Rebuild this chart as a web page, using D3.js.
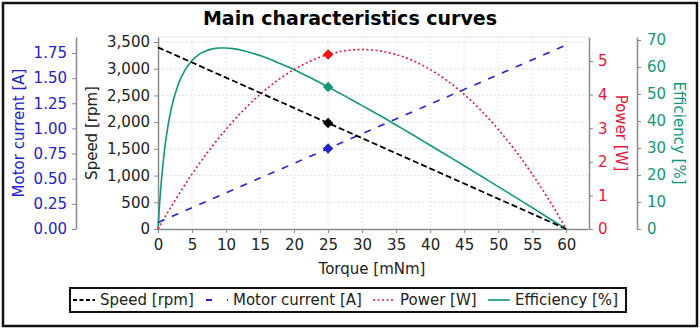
<!DOCTYPE html>
<html><head><meta charset="utf-8">
<script src="https://cdn.jsdelivr.net/npm/d3@7"></script>
<style>body{margin:0;background:#fff}svg{display:block;font-family:"DejaVu Sans",Verdana,sans-serif}</style>
</head><body><svg id="c" width="700" height="331"></svg>
<script>
// ---- data ----
const speedTorque = [0, 60];
const speedValues = [3400, 0];
const currentTorque = [0, 60];
const currentValues = [0.065, 1.829];
const powerTorque = [0, 2.5, 5, 7.5, 10, 12.5, 15, 17.5, 20, 22.5, 25, 27.5, 30, 32.5, 35, 37.5, 40, 42.5, 45, 47.5, 50, 52.5, 55, 57.5, 60];
const powerValues = [0, 0.853, 1.632, 2.337, 2.967, 3.523, 4.006, 4.414, 4.747, 5.007, 5.192, 5.304, 5.341, 5.304, 5.192, 5.007, 4.747, 4.414, 4.006, 3.523, 2.967, 2.337, 1.632, 0.853, 0];
const effTorque = [0, 0.25, 0.5, 1, 1.5, 2, 3, 4, 5, 6, 7, 8, 9, 10, 11, 12, 14, 16, 18, 20, 22.5, 25, 27.5, 30, 32.5, 35, 37.5, 40, 42.5, 45, 47.5, 50, 52.5, 55, 57.5, 60];
const effValues = [0, 9.9, 18.0, 30.1, 38.7, 45.1, 53.7, 59.0, 62.4, 64.6, 65.9, 66.7, 67.0, 67.0, 66.8, 66.4, 65.0, 63.3, 61.2, 59.0, 55.9, 52.6, 49.2, 45.7, 42.2, 38.5, 34.8, 31.0, 27.2, 23.4, 19.6, 15.7, 11.8, 7.9, 3.9, 0];
const opTorque = 25;
const opSpeed = 1983, opCurrent = 0.80, opPower = 5.19, opEff = 52.6;
const xTicks = [0,5,10,15,20,25,30,35,40,45,50,55,60];
const speedTicks = [0,500,1000,1500,2000,2500,3000,3500];
const currentTicks = [0,0.25,0.5,0.75,1.0,1.25,1.5,1.75];
const powerTicks = [0,1,2,3,4,5];
const effTicks = [0,10,20,30,40,50,60,70];
const legendItems = ["Speed [rpm]", "Motor current [A]", "Power [W]", "Efficiency [%]"];

// ---- style ----
const C = {speed:"#000000", current:"#2323c8", power:"#e3173c", powerMark:"#f01010", eff:"#14967a", axis:"#8a8a8a", grid:"#e2e2e2", text:"#222"};
const FS = 15;
const svg = d3.select("#c");
const L = 158, R = 588, T = 37, B = 229;

svg.append("rect").attr("x",3).attr("y",3).attr("width",694).attr("height",323)
  .attr("fill","#fff").attr("stroke","#111").attr("stroke-width",2.5);

svg.append("text").attr("x",350).attr("y",25).attr("text-anchor","middle")
  .attr("font-size",19).attr("font-weight","bold").text("Main characteristics curves");

const x = d3.scaleLinear().domain([0, 63.2]).range([L, R]);
const ySpeed = d3.scaleLinear().domain([0, 3594]).range([B, T]);
const yCur = d3.scaleLinear().domain([0, 1.909]).range([B, T]);
const yPow = d3.scaleLinear().domain([0, 5.714]).range([B, T]);
const yEff = d3.scaleLinear().domain([0, 71.1]).range([B, T]);

// grid
const g = svg.append("g");
g.selectAll(".vg").data(xTicks.slice(1)).join("line")
  .attr("x1",d=>x(d)).attr("x2",d=>x(d)).attr("y1",T).attr("y2",B)
  .attr("stroke",C.grid).attr("stroke-dasharray","2,2");
g.selectAll(".hg").data(speedTicks.slice(1)).join("line")
  .attr("x1",L).attr("x2",R).attr("y1",d=>ySpeed(d)).attr("y2",d=>ySpeed(d))
  .attr("stroke",C.grid).attr("stroke-dasharray","2,2");
g.append("line").attr("x1",L).attr("x2",R).attr("y1",T).attr("y2",T).attr("stroke",C.grid);

function styleAxis(sel, color){
  sel.select(".domain").attr("stroke",C.axis).attr("stroke-width",1.5);
  sel.selectAll(".tick line").attr("stroke",C.axis);
  sel.selectAll(".tick text").attr("fill",color).attr("font-size",FS);
  sel.attr("font-family",null);
}
// x axis
const ax = svg.append("g").attr("transform",`translate(0,${B})`)
  .call(d3.axisBottom(x).tickValues(xTicks).tickSize(4).tickSizeOuter(0).tickPadding(6));
styleAxis(ax,C.text);
// speed axis
const as = svg.append("g").attr("transform",`translate(${L},0)`)
  .call(d3.axisLeft(ySpeed).tickValues(speedTicks).tickFormat(d3.format(",")).tickSize(4).tickSizeOuter(0).tickPadding(4));
styleAxis(as,C.text);
// current axis
const ac = svg.append("g").attr("transform",`translate(76,0)`)
  .call(d3.axisLeft(yCur).tickValues(currentTicks).tickFormat(d3.format(".2f")).tickSize(4).tickSizeOuter(0).tickPadding(5));
styleAxis(ac,C.current);
// power axis
const ap = svg.append("g").attr("transform",`translate(589,0)`)
  .call(d3.axisRight(yPow).tickValues(powerTicks).tickFormat(d3.format("d")).tickSize(4).tickSizeOuter(0).tickPadding(5));
styleAxis(ap,C.power);
// eff axis
const ae = svg.append("g").attr("transform",`translate(637,0)`)
  .call(d3.axisRight(yEff).tickValues(effTicks).tickFormat(d3.format("d")).tickSize(4).tickSizeOuter(0).tickPadding(6));
styleAxis(ae,C.eff);

// axis titles
svg.append("text").attr("transform","translate(24,133) rotate(-90)").attr("text-anchor","middle")
  .attr("font-size",FS).attr("fill",C.current).text("Motor current [A]");
svg.append("text").attr("transform","translate(97,133) rotate(-90)").attr("text-anchor","middle")
  .attr("font-size",FS).attr("fill",C.text).text("Speed [rpm]");
svg.append("text").attr("transform","translate(616,133) rotate(90)").attr("text-anchor","middle")
  .attr("font-size",FS).attr("fill",C.power).text("Power [W]");
svg.append("text").attr("transform","translate(674,133) rotate(90)").attr("text-anchor","middle")
  .attr("font-size",FS).attr("fill",C.eff).text("Efficiency [%]");
svg.append("text").attr("x",372).attr("y",274).attr("text-anchor","middle")
  .attr("font-size",FS).attr("fill",C.text).text("Torque [mNm]");

// lines
function pts(xs, ys){ return xs.map((t,i)=>[t, ys[i]]); }
const lineGen = (ys) => d3.line().x(d=>x(d[0])).y(d=>ys(d[1]));
const pl = svg.append("g");
pl.append("path").datum(pts(effTorque,effValues)).attr("d",lineGen(yEff).curve(d3.curveMonotoneX))
  .attr("fill","none").attr("stroke",C.eff).attr("stroke-width",1.6);
pl.append("path").datum(pts(powerTorque,powerValues)).attr("d",lineGen(yPow).curve(d3.curveMonotoneX))
  .attr("fill","none").attr("stroke",C.power).attr("stroke-width",1.6).attr("stroke-dasharray","2,2.5");
pl.append("path").datum(pts(currentTorque,currentValues)).attr("d",lineGen(yCur))
  .attr("fill","none").attr("stroke",C.current).attr("stroke-width",1.6).attr("stroke-dasharray","7,8");
pl.append("path").datum(pts(speedTorque,speedValues)).attr("d",lineGen(ySpeed))
  .attr("fill","none").attr("stroke",C.speed).attr("stroke-width",1.8).attr("stroke-dasharray","6,3");

// markers
const diamond = d3.symbol().type(d3.symbolDiamond2).size(70);
const marks = [[opSpeed,ySpeed,C.speed],[opCurrent,yCur,C.current],[opPower,yPow,C.powerMark],[opEff,yEff,C.eff]];
svg.append("g").selectAll("path").data(marks).join("path")
  .attr("d",diamond).attr("transform",d=>`translate(${x(opTorque)},${d[1](d[0])})`)
  .attr("fill",d=>d[2]);

// legend
const lg = svg.append("g");
lg.append("rect").attr("x",70).attr("y",288).attr("width",556).attr("height",24)
  .attr("fill","#fff").attr("stroke","#111").attr("stroke-width",2);
const legStyles = [
  {c:C.speed, dash:"4,2.5", w:1.8, x:73},
  {c:C.current, dash:"6,15", w:1.8, x:206},
  {c:C.power, dash:"2,2.5", w:1.6, x:373},
  {c:C.eff, dash:null, w:1.6, x:488}
];
legendItems.forEach((name,i)=>{
  const s = legStyles[i];
  const ln = lg.append("line").attr("x1",s.x).attr("x2",s.x+22).attr("y1",300).attr("y2",300)
    .attr("stroke",s.c).attr("stroke-width",s.w);
  if(s.dash) ln.attr("stroke-dasharray",s.dash);
  lg.append("text").attr("x",s.x+27).attr("y",305).attr("font-size",FS).attr("fill",C.text).text(name);
});
</script></body></html>
